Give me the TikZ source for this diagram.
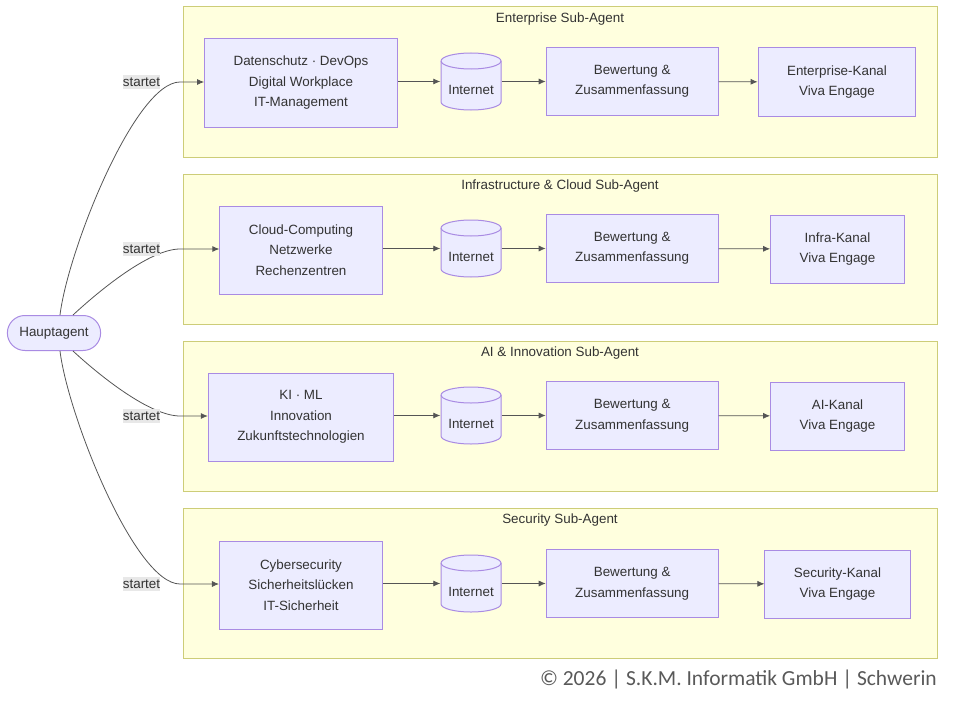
\documentclass[tikz,border=0pt]{standalone}
\usepackage{fontspec}
\setmainfont{Liberation Sans}
\newfontfamily\footfont{Carlito}
\usepackage{xcolor}
\usetikzlibrary{arrows.meta, positioning}

\definecolor{nodefill}{HTML}{ECECFF}
\definecolor{nodeline}{HTML}{A98BE3}
\definecolor{clusterfill}{HTML}{FFFFDE}
\definecolor{clusterline}{HTML}{CDCD78}
\definecolor{textgray}{HTML}{333333}
\definecolor{edgegray}{HTML}{555555}
\definecolor{labelfill}{HTML}{E8E8E8}
\definecolor{footgray}{HTML}{595959}

\begin{document}
\begin{tikzpicture}[
    x=1pt, y=-1pt,
    every node/.style={text=textgray, font=\fontsize{13.4}{20.5}\selectfont},
    box/.style={draw=nodeline, fill=nodefill, align=center, line width=1pt,
                inner xsep=29pt, inner ysep=0pt},
    topic/.style={box, minimum height=88pt},
    summary/.style={box, minimum height=68pt},
    agent/.style={box, rounded corners=17.5pt, inner xsep=12pt, minimum height=35pt},
    web/.style={minimum width=61pt, minimum height=58pt, inner sep=0pt,
                text height=26.6pt, text depth=0pt,
                path picture={
                    \coordinate (cc) at (path picture bounding box.center);
                    \draw[draw=nodeline, fill=nodefill, line width=1pt]
                        ([shift={(-30pt,20.5pt)}]cc) -- ([shift={(-30pt,-20.5pt)}]cc)
                        arc[start angle=180, end angle=360, x radius=30pt, y radius=8pt]
                        -- ([shift={(30pt,20.5pt)}]cc)
                        arc[start angle=0, end angle=180, x radius=30pt, y radius=8pt] -- cycle;
                    \draw[draw=nodeline, line width=1pt]
                        ([shift={(-30pt,20.5pt)}]cc)
                        arc[start angle=180, end angle=360, x radius=30pt, y radius=8pt];
                }},
    cluster/.style={draw=clusterline, fill=clusterfill, line width=1pt},
    arrow/.style={-{Latex[length=7pt, width=6pt]}, draw=edgegray, line width=0.8pt},
    edgelabel/.style={fill=labelfill, inner xsep=0pt, inner ysep=3pt},
]
    \useasboundingbox (0,0) rectangle (955,701);

    % sub-agent frames
    \draw[cluster] (183,7) rectangle (937,157);
    \draw[cluster] (183,174) rectangle (937,324);
    \draw[cluster] (183,341) rectangle (937,491);
    \draw[cluster] (183,508) rectangle (937,658);
    \node (titleA) at (560,19) {Enterprise Sub-Agent};
    \node (titleB) at (560,186) {Infrastructure \& Cloud Sub-Agent};
    \node (titleC) at (560,353) {AI \& Innovation Sub-Agent};
    \node (titleD) at (560,520) {Security Sub-Agent};

    \node[agent] (haupt) at (54,333) {Hauptagent};

    % Enterprise
    \node[topic] (topicA) at (301,83) {Datenschutz · DevOps\\Digital Workplace\\IT-Management};
    \node[web] (webA) at (471,81.5) {Internet};
    \node[summary, right=44pt of webA] (sumA) {Bewertung \&\\Zusammenfassung};
    \node[summary] (chanA) at (837,82) {Enterprise-Kanal\\Viva Engage};

    % Infrastructure & Cloud
    \node[topic] (topicB) at (301,250) {Cloud-Computing\\Netzwerke\\Rechenzentren};
    \node[web] (webB) at (471,248.5) {Internet};
    \node[summary, right=44pt of webB] (sumB) {Bewertung \&\\Zusammenfassung};
    \node[summary] (chanB) at (837.5,249) {Infra-Kanal\\Viva Engage};

    % AI & Innovation
    \node[topic] (topicC) at (301,417) {KI · ML\\Innovation\\Zukunftstechnologien};
    \node[web] (webC) at (471,415.5) {Internet};
    \node[summary, right=44pt of webC] (sumC) {Bewertung \&\\Zusammenfassung};
    \node[summary] (chanC) at (837.5,416) {AI-Kanal\\Viva Engage};

    % Security
    \node[topic] (topicD) at (301,585) {Cybersecurity\\Sicherheitslücken\\IT-Sicherheit};
    \node[web] (webD) at (471,583.5) {Internet};
    \node[summary, right=44pt of webD] (sumD) {Bewertung \&\\Zusammenfassung};
    \node[summary] (chanD) at (837.5,584) {Security-Kanal\\Viva Engage};

    \foreach \r in {A,B,C,D} {
        \draw[arrow] (topic\r.east |- web\r) -- (web\r);
        \draw[arrow] (web\r) -- (sum\r);
        \draw[arrow] (sum\r) -- (chan\r);
    }

    % main agent starts the sub-agents
    \coordinate (turnA) at (180,82);
    \coordinate (turnB) at (180,249);
    \coordinate (turnC) at (180,416);
    \coordinate (turnD) at (180,584);
    \draw[arrow] ([xshift=6pt]haupt.north) .. controls (68,250) and (135,82) .. (turnA) -- (topicA.west |- turnA);
    \draw[arrow] ([xshift=19pt]haupt.north) .. controls (100,290) and (150,249) .. (turnB) -- (topicB.west |- turnB);
    \draw[arrow] ([xshift=19pt]haupt.south) .. controls (100,376) and (150,416) .. (turnC) -- (topicC.west |- turnC);
    \draw[arrow] ([xshift=6pt]haupt.south) .. controls (68,416) and (135,584) .. (turnD) -- (topicD.west |- turnD);
    \node[edgelabel] (lblA) at (141.5,82) {startet};
    \node[edgelabel] (lblB) at (141.5,249) {startet};
    \node[edgelabel] (lblC) at (141.5,416) {startet};
    \node[edgelabel] (lblD) at (141.5,584) {startet};

    \node[anchor=base east, inner sep=0pt, text=footgray,
          font=\footfont\fontsize{21.5}{24}\selectfont]
        (footer) at (937,685) {© 2026 | S.K.M. Informatik GmbH | Schwerin};
\end{tikzpicture}
\end{document}
